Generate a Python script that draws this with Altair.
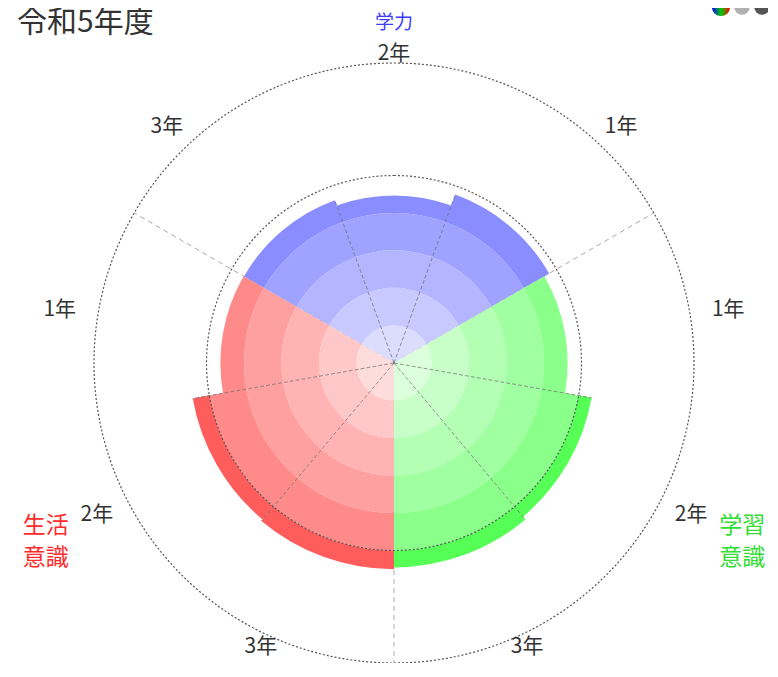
import math
import altair as alt
import pandas as pd

# ---------------- data ----------------
title_text = "令和5年度"
categories = ["学力", "学習意識", "生活意識"]
category_text = ["学力", "学習\n意識", "生活\n意識"]
grades = ["1年", "2年", "3年"]
# clockwise order of the grades inside each category (starting at -60deg)
grade_order = [["3年", "2年", "1年"], ["1年", "2年", "3年"], ["3年", "2年", "1年"]]
gakuryoku = [4.78, 4.47, 4.62]        # 学力 1年, 2年, 3年
gakushu_ishiki = [4.63, 5.35, 5.45]   # 学習意識 1年, 2年, 3年
seikatsu_ishiki = [4.63, 5.45, 5.50]  # 生活意識 1年, 2年, 3年
grid_levels = [5, 8]
axis_max = 8

# ---------------- style ----------------
band_colors = {
    "学力": ["#dcdcff", "#c8caff", "#b3b6ff", "#9fa3ff", "#8a8dff", "#5c5cff"],
    "学習意識": ["#dcffdc", "#c8ffc8", "#b3ffb3", "#a0ffa0", "#8aff8a", "#55ff55"],
    "生活意識": ["#ffdcdc", "#ffc8c8", "#ffb3b3", "#ffa0a0", "#ff8a8a", "#ff5c5c"],
}
label_colors = {"学力": "#3c3cff", "学習意識": "#33dd33", "生活意識": "#ff2a2a"}
FONT = "Noto Sans CJK JP"
W, H = 760, 655
CX, CY = 386, 355          # centre of the polar plot (chart pixels)
UNIT = 37.5                # pixels per score unit
N = 9
START = -math.pi / 3
STEP = 2 * math.pi / N
LBL_RX, LBL_R0, LBL_RK, LBL_PAD = 313, 305.5, 3.5, 26
CAT_TOP_RY = 340
CAT_SIDE_RX, CAT_SIDE_RY = 402, 326

# ---------------- tables ----------------
values = {"学力": gakuryoku, "学習意識": gakushu_ishiki, "生活意識": seikatsu_ishiki}
sectors, bands = [], []
idx = 0
for ci, cat in enumerate(categories):
    for g in grade_order[ci]:
        v = values[cat][grades.index(g)]
        sectors.append({"idx": idx, "cat": cat, "grade": g, "value": v})
        k = 0
        while k < v:
            bands.append({"t0": idx, "t1": idx + 1, "r0": k, "r1": min(k + 1, v),
                          "color": band_colors[cat][k]})
            k += 1
        idx += 1
sec_df = pd.DataFrame(sectors)
band_df = pd.DataFrame(bands)

inner_lines, cat_lines = [], []
for b in range(N):
    if b % 3 == 0:
        cat_lines.append({"b": b, "r_end": axis_max})
    else:
        inner_lines.append({"b": b, "r_end": max(sectors[b - 1]["value"], sectors[b]["value"])})
inner_df = pd.DataFrame(inner_lines)
catline_df = pd.DataFrame(cat_lines)
grid_df = pd.DataFrame({"r": grid_levels})
cat_df = pd.DataFrame({"cat": categories, "text": category_text,
                       "pos": [1.5, 4.5, 7.5],
                       "color": [label_colors[c] for c in categories]})

# ---------------- scales ----------------
theta_scale = alt.Scale(domain=[0, N], range=[START, START + 2 * math.pi])
radius_scale = alt.Scale(type="linear", domain=[0, axis_max], range=[0, axis_max * UNIT], zero=True)
xs = alt.Scale(domain=[-10, 10], range=[CX - 10 * UNIT, CX + 10 * UNIT], nice=False, zero=False)
ys = alt.Scale(domain=[-10, 10], range=[CY + 10 * UNIT, CY - 10 * UNIT], nice=False, zero=False)


def radial_rules(df, color, dash, opacity):
    return (
        alt.Chart(df)
        .transform_calculate(ang=f"{START} + datum.b * {STEP}")
        .transform_calculate(x0="0", y0="0",
                             x1="sin(datum.ang) * datum.r_end",
                             y1="cos(datum.ang) * datum.r_end")
        .mark_rule(color=color, strokeDash=dash, strokeWidth=1, opacity=opacity)
        .encode(x=alt.X("x0:Q", scale=xs, axis=None),
                y=alt.Y("y0:Q", scale=ys, axis=None),
                x2="x1:Q", y2="y1:Q")
    )


cat_rules = radial_rules(catline_df, "#aaaaaa", [5, 4], 1)

arcs = (
    alt.Chart(band_df)
    .mark_arc()
    .encode(
        theta=alt.Theta("t0:Q", scale=theta_scale, stack=None),
        theta2="t1:Q",
        radius=alt.Radius("r1:Q", scale=radius_scale, stack=None),
        radius2="r0:Q",
        fill=alt.Fill("color:N", scale=None),
        x=alt.value(CX),
        y=alt.value(CY),
    )
)

inner_rules = radial_rules(inner_df, "#555555", [4, 2], 0.6)

grid = (
    alt.Chart(grid_df)
    .mark_arc(fill="transparent", stroke="#555555", strokeDash=[2, 2], strokeWidth=1.2)
    .encode(
        theta=alt.value(0),
        theta2=alt.value(2 * math.pi),
        radius=alt.Radius("r:Q", scale=radius_scale, stack=None),
        x=alt.value(CX),
        y=alt.value(CY),
    )
)

year_labels = (
    alt.Chart(sec_df)
    .transform_calculate(a=f"{START} + (datum.idx + 0.5) * {STEP}")
    .transform_calculate(
        lx=f"({LBL_RX} * sin(datum.a) + {LBL_PAD} * (abs(sin(datum.a)) < 0.01 ? 0 : (sin(datum.a) > 0 ? 1 : -1))) / {UNIT}",
        ly=f"({LBL_R0} + {LBL_RK} * cos(datum.a)) * cos(datum.a) / {UNIT}",
    )
    .mark_text(font=FONT, fontSize=21, color="#333333", align="center", baseline="middle")
    .encode(x=alt.X("lx:Q", scale=xs, axis=None), y=alt.Y("ly:Q", scale=ys, axis=None),
            text="grade:N")
)

cat_base = alt.Chart(cat_df).transform_calculate(a=f"{START} + datum.pos * {STEP}")
cat_top = (
    cat_base.transform_filter("datum.pos < 2")
    .transform_calculate(cx="0", cy=f"{CAT_TOP_RY} * cos(datum.a) / {UNIT}")
    .mark_text(font=FONT, fontSize=19, align="center", baseline="middle")
    .encode(x=alt.X("cx:Q", scale=xs, axis=None), y=alt.Y("cy:Q", scale=ys, axis=None),
            text="text:N", color=alt.Color("color:N", scale=None))
)
cat_side = (
    cat_base.transform_filter("datum.pos > 2")
    .transform_calculate(cx=f"{CAT_SIDE_RX} * sin(datum.a) / {UNIT}",
                         cy=f"{CAT_SIDE_RY} * cos(datum.a) / {UNIT}")
    .mark_text(font=FONT, fontSize=23, align="center", baseline="middle", lineBreak="\n", lineHeight=32)
    .encode(x=alt.X("cx:Q", scale=xs, axis=None), y=alt.Y("cy:Q", scale=ys, axis=None),
            text="text:N", color=alt.Color("color:N", scale=None))
)

title = (
    alt.Chart(pd.DataFrame({"t": [title_text]}))
    .mark_text(font=FONT, fontSize=30, color="#333333", align="left", baseline="top")
    .encode(text="t:N", x=alt.value(9), y=alt.value(0))
)

rgb = alt.LinearGradient(
    gradient="linear", x1=0, x2=1, y1=0, y2=0,
    stops=[alt.GradientStop(offset=0, color="#0000ff"),
           alt.GradientStop(offset=0.5, color="#00cc00"),
           alt.GradientStop(offset=1, color="#ff0000")],
)
one = pd.DataFrame({"k": [0]})
icon1 = alt.Chart(one).mark_point(shape="circle", filled=True, fill=rgb, size=330, opacity=1, strokeWidth=0).encode(
    x=alt.value(713), y=alt.value(-1))
icon2 = alt.Chart(one).mark_circle(color="#b0b0b0", size=240, opacity=1).encode(
    x=alt.value(734), y=alt.value(-1))
icon3 = alt.Chart(one).mark_circle(color="#555555", size=240, opacity=1).encode(
    x=alt.value(754), y=alt.value(-1))

chart = (
    alt.layer(cat_rules, arcs, inner_rules, grid, year_labels, cat_top, cat_side, title,
              icon1, icon2, icon3)
    .properties(width=W, height=H, autosize=alt.AutoSizeParams(type="none"), padding=0)
    .configure_view(strokeWidth=0)
)

chart.save("out.html", embed_options={"renderer": "svg", "actions": False})
